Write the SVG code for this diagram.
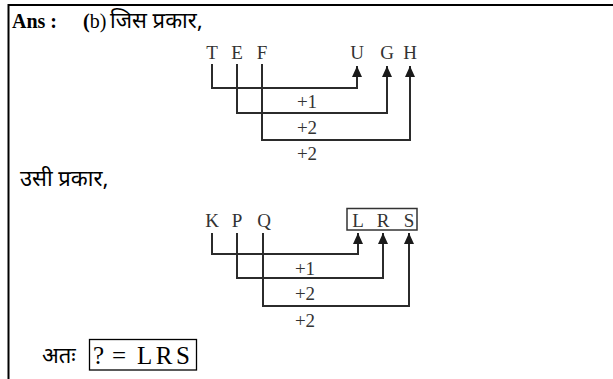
<svg xmlns="http://www.w3.org/2000/svg" width="613" height="379" viewBox="0 0 613 379">
<style>
.frame{stroke:#000;stroke-width:2;fill:none}
.ln{stroke:#2b2b2b;stroke-width:2;fill:none}
.t{font-family:"Liberation Serif","Times New Roman",serif;fill:#000}
.d{font-family:"Liberation Serif","Times New Roman",serif;fill:#333;font-size:19px;text-anchor:middle}
.lab{font-family:"Liberation Serif","Times New Roman",serif;fill:#333;font-size:19px;text-anchor:middle}
.hi{font-family:"Noto Sans Devanagari","Lohit Devanagari","Noto Sans","Noto Sans CJK SC",sans-serif;fill:#000;font-size:22px}
</style>
<defs>
<marker id="ah" viewBox="0 0 11 10" refX="11" refY="5" markerWidth="11" markerHeight="10" markerUnits="userSpaceOnUse" orient="auto">
<path d="M0,0 L11,5 L0,10 Z" fill="#1a1a1a"/>
</marker>
</defs>
<rect width="613" height="379" fill="#fff"/>
<g id="frame">
<path class="frame" d="M8.5,379 V5 H613"/>
</g>
<g id="header">
<text class="t" x="12" y="28" font-size="20" font-weight="bold">Ans :</text>
<text class="t" x="83" y="28" font-size="20"><tspan font-weight="bold">(</tspan>b)</text>
<text class="hi" x="110" y="28">जिस प्रकार,</text>
</g>
<g id="set1-source">
<text class="d" x="212" y="59">T</text>
<text class="d" x="237" y="59">E</text>
<text class="d" x="262" y="59">F</text>
</g>
<g id="set1-target">
<text class="d" x="357" y="59">U</text>
<text class="d" x="387" y="59">G</text>
<text class="d" x="410" y="59">H</text>
</g>
<g id="connectors1">
<path class="ln" d="M212,64 V88 H357 V66" marker-end="url(#ah)"/>
<path class="ln" d="M237,64 V113 H387 V66" marker-end="url(#ah)"/>
<path class="ln" d="M262,64 V140 H410 V66" marker-end="url(#ah)"/>
<text class="lab" x="307" y="108">+1</text>
<text class="lab" x="307" y="134">+2</text>
<text class="lab" x="307" y="160">+2</text>
</g>
<g id="similar">
<text class="hi" x="20" y="186">उसी प्रकार,</text>
</g>
<g id="set2-source">
<text class="d" x="212" y="227">K</text>
<text class="d" x="237" y="227">P</text>
<text class="d" x="264" y="227">Q</text>
</g>
<g id="set2-target">
<rect x="347" y="208.5" width="70" height="21.5" fill="none" stroke="#333" stroke-width="1.5"/>
<text class="d" x="358" y="227">L</text>
<text class="d" x="383" y="227">R</text>
<text class="d" x="409" y="227">S</text>
</g>
<g id="connectors2">
<path class="ln" d="M212,233 V254 H358 V233" marker-end="url(#ah)"/>
<path class="ln" d="M237,233 V278 H383 V233" marker-end="url(#ah)"/>
<path class="ln" d="M263,233 V306 H409 V233" marker-end="url(#ah)"/>
<text class="lab" x="305" y="275">+1</text>
<text class="lab" x="305" y="300">+2</text>
<text class="lab" x="305" y="327">+2</text>
</g>
<g id="answer">
<text class="hi" x="42" y="363" font-size="20">अतः</text>
<rect x="89.5" y="339.5" width="107" height="30.5" fill="none" stroke="#000" stroke-width="1.3"/>
<text class="t" y="364" font-size="25"><tspan x="93">?</tspan><tspan x="112">=</tspan><tspan x="137" letter-spacing="3.5">LRS</tspan></text>
</g>
</svg>
